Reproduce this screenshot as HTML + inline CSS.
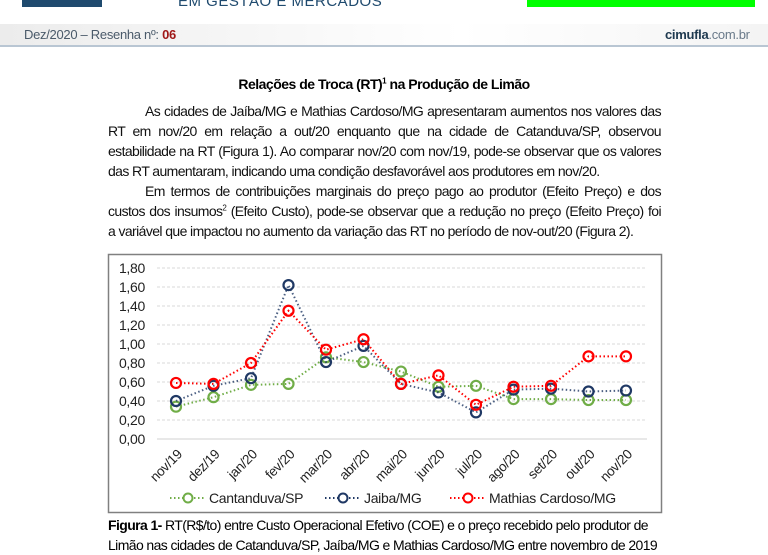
<!DOCTYPE html>
<html><head><meta charset="utf-8"><style>
body{margin:0;width:768px;height:539px;overflow:hidden;background:#fff;font-family:"Liberation Sans",sans-serif;position:relative}
.ab{position:absolute}
.ln{position:absolute;left:108px;width:553px;font-size:14px;letter-spacing:-0.6px;color:#111;white-space:nowrap;text-align:justify;text-align-last:justify;line-height:16px}
.nl{text-align-last:left}
</style></head><body>
<div class="ab" style="left:178px;top:-7px;font-size:15px;color:#1f4a6e;letter-spacing:0.5px">EM GESTÃO E MERCADOS</div>
<div class="ab" style="left:22px;top:0;width:80px;height:7px;background:#1f4a6e"></div>
<div class="ab" style="left:527px;top:0;width:228px;height:7px;background:#00ff00"></div>
<div class="ab" style="left:0;top:24px;width:768px;height:21px;background:linear-gradient(90deg,#ececec,#fff 60%,#f4f4f4);border-bottom:2px solid #b9c6d3"></div>
<div class="ab" style="left:24px;top:27px;font-size:13px;color:#4a5a6a;letter-spacing:-0.3px">Dez/2020 – Resenha nº: <b style="color:#a01818">06</b></div>
<div class="ab" style="left:665px;top:27px;font-size:13px;color:#1f3a50;letter-spacing:-0.3px"><b>cimufla</b><span style="color:#6a7a8a">.com.br</span></div>
<div class="ab" style="left:0;width:768px;top:76px;text-align:center;font-size:14px;font-weight:bold;letter-spacing:-0.5px">Relações de Troca (RT)<sup style="font-size:8px">1</sup> na Produção de Limão</div>
<div>
<div class="ln" style="top:103px;left:145px;width:516px">As cidades de Jaíba/MG e Mathias Cardoso/MG apresentaram aumentos nos valores das</div>
<div class="ln" style="top:123px">RT em nov/20 em relação a out/20 enquanto que na cidade de Catanduva/SP, observou</div>
<div class="ln" style="top:143px">estabilidade na RT (Figura 1). Ao comparar nov/20 com nov/19, pode-se observar que os valores</div>
<div class="ln nl" style="top:163px">das RT aumentaram, indicando uma condição desfavorável aos produtores em nov/20.</div>
<div class="ln" style="top:183px;left:145px;width:516px">Em termos de contribuições marginais do preço pago ao produtor (Efeito Preço) e dos</div>
<div class="ln" style="top:203px">custos dos insumos<sup style="font-size:8px;line-height:0">2</sup> (Efeito Custo), pode-se observar que a redução no preço (Efeito Preço) foi</div>
<div class="ln nl" style="top:223px">a variável que impactou no aumento da variação das RT no período de nov-out/20 (Figura 2).</div>
</div>
<svg id="chart" class="ab" style="left:0;top:0" width="768" height="539"></svg>
<div class="ab" style="left:108px;top:515px;width:553px;font-size:14px;letter-spacing:-0.6px;white-space:nowrap;line-height:20px"><b>Figura 1-</b> RT(R$/to) entre Custo Operacional Efetivo (COE) e o preço recebido pelo produtor de<br>Limão nas cidades de Catanduva/SP, Jaíba/MG e Mathias Cardoso/MG entre novembro de 2019</div>
<script>
const categories=["nov/19","dez/19","jan/20","fev/20","mar/20","abr/20","mai/20","jun/20","jul/20","ago/20","set/20","out/20","nov/20"];
const catanduva=[0.34,0.44,0.57,0.58,0.86,0.81,0.71,0.55,0.56,0.42,0.42,0.41,0.41];
const jaiba=[0.40,0.56,0.64,1.62,0.81,0.98,0.58,0.49,0.28,0.52,0.53,0.50,0.51];
const mathias=[0.59,0.58,0.80,1.35,0.94,1.05,0.58,0.67,0.36,0.55,0.56,0.87,0.87];
const yTicks=[0,0.2,0.4,0.6,0.8,1.0,1.2,1.4,1.6,1.8];
const seriesNames=["Cantanduva/SP","Jaiba/MG","Mathias Cardoso/MG"];
const NS="http://www.w3.org/2000/svg";
const svg=document.getElementById('chart');
const x=i=>176+i*37.5;
const y=v=>439-v*95;
function mk(t,a,p){const e=document.createElementNS(NS,t);for(const k in a)e.setAttribute(k,a[k]);(p||svg).appendChild(e);return e;}
const frame=mk('rect',{x:108.5,y:254.5,width:553,height:258,fill:'#fff',stroke:'#808080','stroke-width':1.5});


yTicks.forEach(v=>{
  const g=mk('line',{x1:157,x2:647,y1:y(v),y2:y(v),stroke:v===0?'#d0d0d0':'#d9d9d9','stroke-dasharray':v===0?'':'3,2'});
  
  
  const t=mk('text',{x:145,y:y(v)+5,'text-anchor':'end','font-size':14,'letter-spacing':-0.3,fill:'#222','font-family':'Liberation Sans'});
  t.textContent=v.toFixed(2).replace('.',',');
  
  
});
categories.forEach((c,i)=>{
  const t=mk('text',{x:x(i)+7,y:455,'text-anchor':'end','font-size':13.5,'letter-spacing':-0.3,fill:'#222','font-family':'Liberation Sans',transform:`rotate(-45 ${x(i)+7} 455)`});
  t.textContent=c;
  
  
});
const colors=['#70ad47','#1f3864','#ff0000'];
[catanduva,jaiba,mathias].forEach((s,k)=>{
  const pl=mk('polyline',{points:s.map((v,i)=>x(i)+','+y(v)).join(' '),fill:'none',stroke:colors[k],'stroke-width':2,'stroke-dasharray':'1.5,2.5',opacity:k==1?0.8:1});
  
  
  s.forEach((v,i)=>{
    const c=mk('circle',{cx:x(i),cy:y(v),r:5,fill:'none',stroke:colors[k],'stroke-width':2.2});
    
    
  });
});
const lx=[170,325,450];
seriesNames.forEach((n,k)=>{
  const g=mk('g',{});
  
  
  mk('line',{x1:lx[k],x2:lx[k]+36,y1:498,y2:498,stroke:colors[k],'stroke-width':2,'stroke-dasharray':'1.5,2.5'},g);
  mk('circle',{cx:lx[k]+18,cy:498,r:4.5,fill:'#fff',stroke:colors[k],'stroke-width':2},g);
  const t=mk('text',{x:lx[k]+39,y:503,'font-size':14,'letter-spacing':-0.3,fill:'#222','font-family':'Liberation Sans'},g);
  t.textContent=n;
});
</script>
</body></html>
